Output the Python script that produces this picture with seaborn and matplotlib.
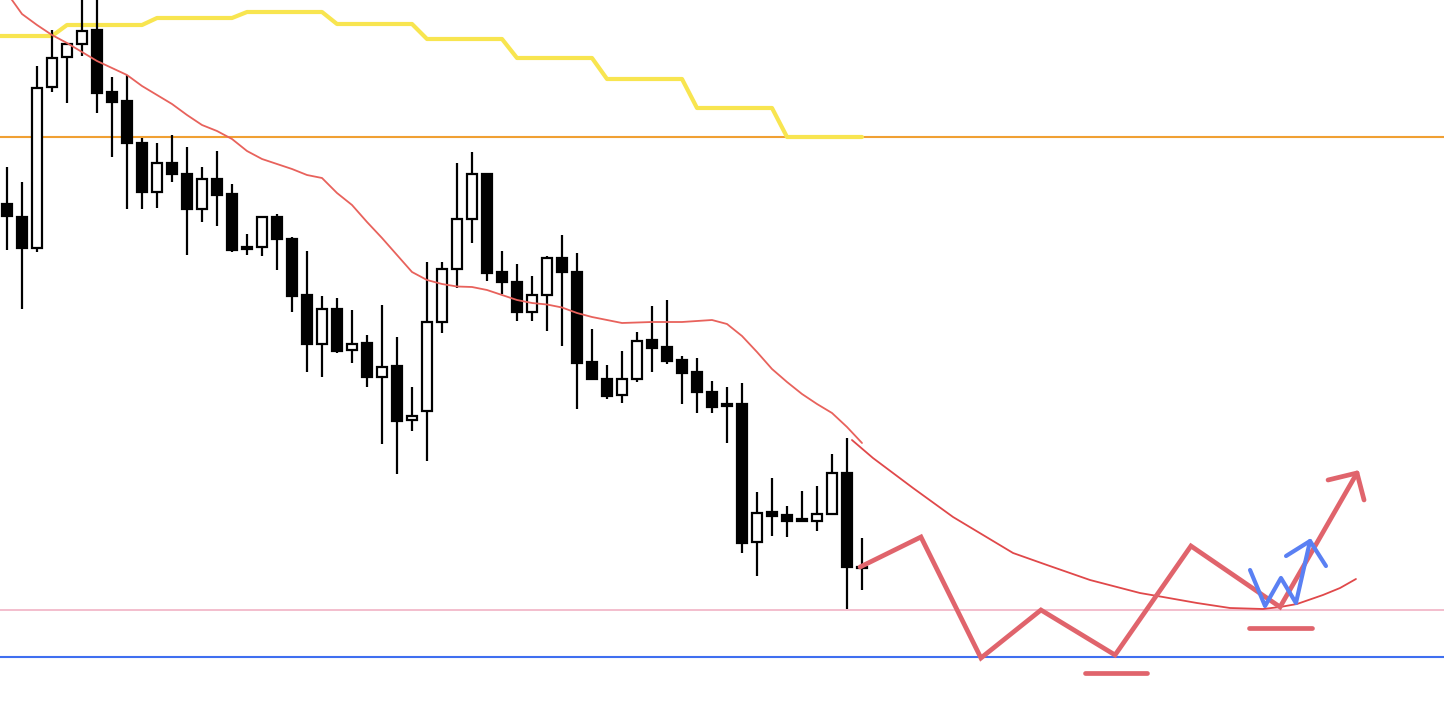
import numpy as np
import pandas as pd
import matplotlib
matplotlib.use("Agg")
import matplotlib.pyplot as plt
import seaborn as sns

# candle data (price units, 58 bars)
opens = [512, 499, 468, 629, 659, 672, 686, 624, 615, 573,
         524, 553, 542, 507, 537, 522, 469, 469, 499, 477,
         421, 372, 407, 366, 373, 339, 350, 296, 305, 394,
         447, 497, 542, 444, 434, 404, 421, 458, 444, 354,
         337, 321, 337, 376, 369, 356, 344, 324, 312, 312,
         174, 204, 201, 197, 195, 202, 243, 149]
highs = [549, 534, 650, 686, 672, 721, 721, 639, 641, 578,
         573, 581, 569, 549, 565, 532, 482, 500, 502, 479,
         465, 420, 418, 406, 381, 411, 379, 329, 454, 454,
         553, 564, 542, 465, 452, 440, 460, 481, 463, 387,
         351, 365, 384, 410, 416, 360, 358, 335, 329, 333,
         224, 238, 210, 225, 230, 262, 278, 178]
lows = [466, 407, 464, 624, 613, 660, 603, 559, 507, 507,
        508, 534, 461, 494, 490, 464, 461, 460, 446, 404,
        344, 339, 363, 353, 329, 272, 242, 285, 255, 383,
        428, 473, 435, 422, 395, 395, 385, 370, 307, 336,
        317, 313, 334, 344, 352, 312, 303, 303, 273, 163,
        140, 180, 179, 194, 185, 202, 107, 126]
closes = [500, 468, 628, 658, 672, 685, 623, 614, 573, 524,
          553, 542, 507, 537, 521, 466, 467, 499, 477, 420,
          372, 407, 365, 372, 339, 349, 295, 300, 394, 447,
          497, 542, 443, 434, 404, 421, 458, 444, 353, 337,
          320, 337, 375, 368, 355, 343, 324, 309, 310, 173,
          203, 200, 195, 195, 202, 243, 149, 148]

# indicator lines, starting one bar before the first visible candle
ma_line = [744, 723, 702, 691, 681, 673, 664, 655, 648, 641, 630,
           621, 612, 601, 591, 585, 577, 565, 557, 552, 547,
           541, 538, 523, 511, 494, 478, 461, 444, 436, 432,
           429.5, 429, 426, 421, 416, 413, 411.5, 408.5, 403, 399,
           396, 393, 393.5, 394, 394, 394, 395, 396, 392, 380,
           364, 347, 334, 322, 312, 303, 289, 273]
cloud_line = [680, 680, 680, 680, 680, 691, 691, 691, 691, 691, 691,
              698, 698, 698, 698, 698, 698, 704, 704, 704, 704,
              704, 704, 692, 692, 692, 692, 692, 692, 677, 677,
              677, 677, 677, 677, 658, 658, 658, 658, 658, 658,
              637, 637, 637, 637, 637, 637, 608, 608, 608, 608,
              608, 608, 579, 579, 579, 579, 579, 579]

# horizontal levels
resistance = 579.3
support_pink = 106.5
support_blue = 59

# hand-drawn scenario
proj_x = [56.33, 57.73, 60.4, 63.07, 65.07, 67.07, 69.33, 72.2, 75.53,
          77.07, 79.33, 81.53, 83.73, 84.87, 86.0, 87.73, 88.87, 89.93]
proj_y = [276, 258, 228, 199, 181, 163, 151, 136, 123,
          119, 113, 108, 107, 109, 112, 121, 128, 137]
zig_x = [56.87, 60.93, 64.93, 68.93, 73.87, 78.93, 84.87, 90.0]
zig_y = [149, 179, 58, 106, 61, 170, 109, 243]
zig_head_x = [88.07, 90.0, 90.47]
zig_head_y = [236, 243, 216]
bottoms = [(71.87, 76.0, 43), (82.8, 87.0, 88)]
small_x = [82.87, 83.87, 84.93, 85.93, 86.87]
small_y = [146, 110, 138, 113, 175]
small_head_x = [85.27, 86.87, 87.93]
small_head_y = [160, 175, 150]

sns.set_style("white")

fig = plt.figure(figsize=(14.44, 7.16), dpi=100)
ax = fig.add_axes([0, 0, 1, 1])

df = pd.DataFrame({"open": opens, "high": highs, "low": lows, "close": closes})
df["idx"] = np.arange(len(df))
line_idx = np.arange(-1, len(df))

# horizontal lines
ax.axhline(resistance, color="#f0a033", lw=1.5, zorder=1)
ax.axhline(support_pink, color="#f2b9c9", lw=1.3, zorder=1)
ax.axhline(support_blue, color="#3f6ff0", lw=1.5, zorder=1)

# yellow step line
sns.lineplot(x=line_idx, y=cloud_line, ax=ax, color="#f8e550", lw=3.0,
             zorder=2, solid_joinstyle="round")

# candles
up = df["close"] >= df["open"]
ax.vlines(df["idx"], df["low"], df["high"], color="black", lw=1.6, zorder=3)
body_lo = np.minimum(df["open"], df["close"])
body_h = np.maximum(np.abs(df["close"] - df["open"]), 1.5)
ax.bar(df["idx"][up], body_h[up], bottom=body_lo[up], width=0.72,
       color="white", edgecolor="black", linewidth=1.6, zorder=4)
ax.bar(df["idx"][~up], body_h[~up], bottom=body_lo[~up], width=0.72,
       color="black", edgecolor="black", linewidth=1.6, zorder=4)

# moving average
sns.lineplot(x=line_idx, y=ma_line, ax=ax, color="#e8625c", lw=1.3, zorder=5)
sns.lineplot(x=proj_x, y=proj_y, ax=ax, color="#e0484a", lw=1.3, zorder=5)

# scenario drawing
red = "#e0646c"
sns.lineplot(x=zig_x, y=zig_y, ax=ax, color=red, lw=3.4, sort=False,
             estimator=None, zorder=6, solid_capstyle="round",
             solid_joinstyle="miter")
sns.lineplot(x=zig_head_x, y=zig_head_y, ax=ax, color=red, lw=3.4,
             sort=False, estimator=None, zorder=6, solid_capstyle="round")
for x0, x1, y in bottoms:
    ax.plot([x0, x1], [y, y], color=red, lw=3.4, solid_capstyle="round",
            zorder=6)

blue = "#5a80f3"
sns.lineplot(x=small_x, y=small_y, ax=ax, color=blue, lw=3.0, sort=False,
             estimator=None, zorder=7, solid_capstyle="round")
sns.lineplot(x=small_head_x, y=small_head_y, ax=ax, color=blue, lw=3.0,
             sort=False, estimator=None, zorder=7, solid_capstyle="round")

ax.set_xlim(-7 / 15, (1444 - 7) / 15)
ax.set_ylim(0, 716)
ax.axis("off")

fig.savefig("out.png", dpi=100)
